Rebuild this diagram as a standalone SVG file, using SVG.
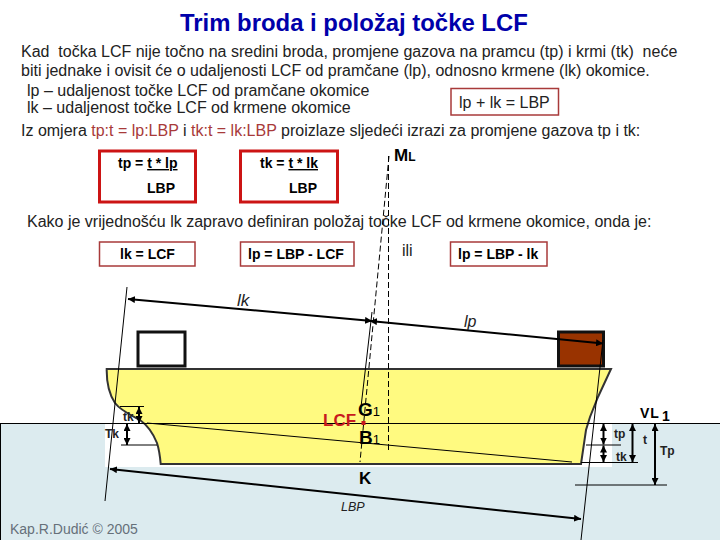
<svg xmlns="http://www.w3.org/2000/svg" width="720" height="540" viewBox="0 0 720 540">
<style>
text{font-family:"Liberation Sans",Arial,sans-serif;white-space:pre;fill:#222}
.b{font-size:16px}
.r{fill:#A83A3A}
.f{font-size:14px;font-weight:bold;fill:#000}
.box1{fill:#fff;stroke:#CC1414;stroke-width:3}
.box2{fill:#fff;stroke:#A83A3A;stroke-width:1.5}
.ln{stroke:#000;stroke-width:1;fill:none}
.dash{stroke:#000;stroke-width:1;stroke-dasharray:6 3;fill:none}
.dim{stroke:#000;stroke-width:2;fill:none}
.s{font-size:12px;font-weight:bold;fill:#222}
.lab{font-weight:bold;fill:#000}
</style>
<defs>
<marker id="a" viewBox="0 0 10 10" refX="10" refY="5" markerUnits="userSpaceOnUse" markerWidth="7" markerHeight="7" orient="auto-start-reverse"><path d="M0 0L10 5L0 10z" fill="#000"/></marker>
</defs>
<rect width="720" height="540" fill="#fff"/>
<g id="water">
<rect x="0.5" y="423.500" width="720" height="117" fill="#DCEBEF"/>
<rect x="105" y="424" width="56" height="43" fill="#fff"/>
<rect x="160" y="464" width="425" height="3" fill="#fff"/>
<rect x="580" y="424" width="32" height="43" fill="#fff"/>
<path d="M0.5 540V423.500H720" class="ln"/>
</g>
<g id="title"><text x="180" y="31" font-size="23.900" font-weight="bold" style="fill:#0000AA">Trim broda i položaj točke LCF</text></g>
<g id="body">
<text class="b" x="21" y="57">Kad  točka LCF nije točno na sredini broda, promjene gazova na pramcu (tp) i krmi (tk)  neće</text>
<text class="b" x="21" y="76">biti jednake i ovisit će o udaljenosti LCF od pramčane (lp), odnosno krmene (lk) okomice.</text>
<text class="b" x="27" y="96">lp – udaljenost točke LCF od pramčane okomice</text>
<text class="b" x="27" y="113">lk – udaljenost točke LCF od krmene okomice</text>
<text class="b" x="21" y="136">Iz omjera <tspan class="r">tp:t = lp:LBP</tspan> i <tspan class="r">tk:t = lk:LBP</tspan> proizlaze sljedeći izrazi za promjene gazova tp i tk:</text>
<text class="b" x="27" y="227">Kako je vrijednošću lk zapravo definiran položaj točke LCF od krmene okomice, onda je:</text>
</g>
<g id="hull">
<path d="M106.700 369H611L598 397L590 417L586 430L581 464H160.700C160 456 159 449 157 443C153 433 147 425 140 420C131 415 121 411 115 403C109 394 106.500 382 106.700 369Z" fill="#FFFA80" stroke="#333" stroke-width="2"/>
<rect x="138" y="332" width="47" height="34" fill="#fff" stroke="#111" stroke-width="3"/>
<rect x="558.500" y="332" width="45" height="34" fill="#993300" stroke="#111" stroke-width="3"/>
</g>
<g id="connectors">
<path class="ln" d="M127 287L105 501M603 340L581 540M372 312L361 407M0 423.500H720M147 423L572 462"/>
<path class="dash" d="M389 156L360 462M388.500 156V451"/>
<path class="dim" d="M128 299L372 321" marker-start="url(#a)" marker-end="url(#a)"/>
<path class="dim" d="M370 321L603 343.500" marker-start="url(#a)" marker-end="url(#a)"/>
<path class="dim" d="M110 469L581 519" marker-start="url(#a)" marker-end="url(#a)"/>
<path class="ln" d="M120 406.500H144M121 445H157M586 445H621M581 462.500H638M575 485H667"/>
<g class="dim">
<path d="M139 407V423" marker-start="url(#a)" marker-end="url(#a)"/>
<path d="M127 424V445" marker-start="url(#a)" marker-end="url(#a)"/>
<path d="M603.500 424V444.500" marker-start="url(#a)" marker-end="url(#a)"/>
<path d="M603.500 445.500V462" marker-start="url(#a)" marker-end="url(#a)"/>
<path d="M632.500 424V462" marker-start="url(#a)" marker-end="url(#a)"/>
<path d="M655 424V485" marker-start="url(#a)" marker-end="url(#a)"/>
</g>
</g>
<g id="box-lp-lk"><rect class="box2" x="451" y="88.500" width="107.500" height="26.500"/><text x="459" y="108" font-size="16">lp + lk = LBP</text></g>
<g id="box-tp"><rect class="box1" x="99.500" y="151" width="96" height="51"/><text class="f" x="118" y="168">tp = <tspan text-decoration="underline">t * lp</tspan></text><text class="f" x="147" y="193">LBP</text></g>
<g id="box-tk"><rect class="box1" x="240.500" y="151" width="97" height="51"/><text class="f" x="260" y="168">tk = <tspan text-decoration="underline">t * lk</tspan></text><text class="f" x="289" y="193">LBP</text></g>
<g id="box-lk"><rect class="box2" x="99.500" y="242" width="95.500" height="24"/><text class="f" x="120" y="259">lk = LCF</text></g>
<g id="box-lp"><rect class="box2" x="240.500" y="242" width="113.500" height="24"/><text class="f" x="248" y="259">lp = LBP - LCF</text></g>
<g id="box-lp2"><rect class="box2" x="450.500" y="242" width="96.500" height="24"/><text class="f" x="458" y="259">lp = LBP - lk</text></g>
<g id="labels">
<text x="394" y="161" font-size="17" class="lab">M<tspan font-size="12">L</tspan></text>
<text x="402" y="256" font-size="16">ili</text>
<text x="237" y="306" font-size="17" font-style="italic">lk</text>
<text x="464" y="327" font-size="16" font-style="italic">lp</text>
<text x="358" y="416" font-size="19" class="lab">G<tspan font-size="13" font-weight="normal">1</tspan></text>
<text x="359" y="444" font-size="19" class="lab">B<tspan font-size="13" font-weight="normal">1</tspan></text>
<text x="323" y="426" font-size="17" class="lab" style="fill:#C8191E">LCF</text>
<rect x="361.500" y="421" width="4" height="4" fill="#C8191E"/>
<text x="359" y="484" font-size="17" class="lab">K</text>
<text x="341" y="511" font-size="12.500" font-style="italic">LBP</text>
<text x="123" y="421" class="s">tk</text>
<text x="105" y="438" class="s">Tk</text>
<text x="614" y="438" class="s">tp</text>
<text x="616" y="461" class="s">tk</text>
<text x="643" y="444" class="s">t</text>
<text x="660" y="455" class="s">Tp</text>
<text x="640" y="418" font-size="14" class="lab" letter-spacing="1">VL<tspan dx="2" dy="3">1</tspan></text>
<text x="10" y="534" font-size="14" style="fill:#66707A">Kap.R.Dudić © 2005</text>
</g>
</svg>
